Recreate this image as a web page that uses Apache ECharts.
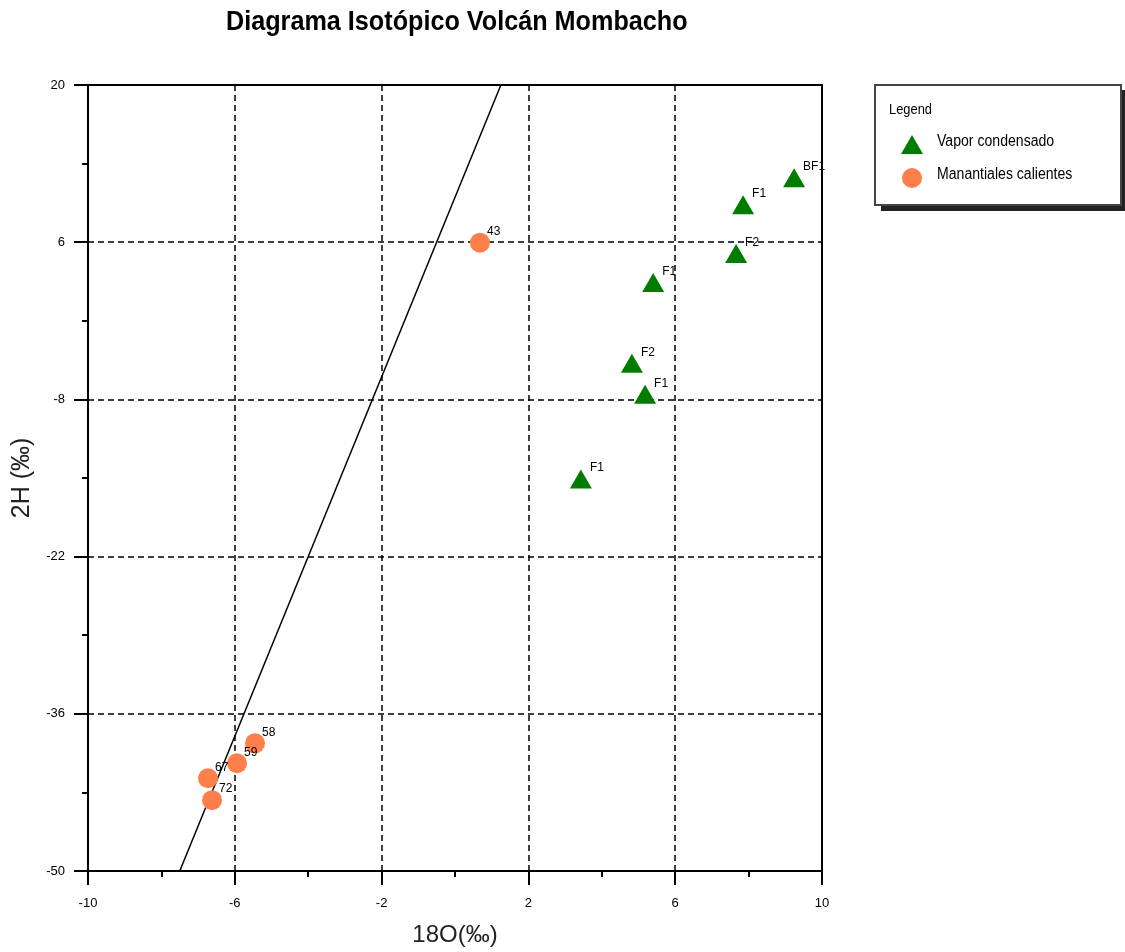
<!DOCTYPE html>
<html>
<head>
<meta charset="utf-8">
<script src="https://cdn.jsdelivr.net/npm/echarts@6/dist/echarts.min.js"></script>
<style>
  html, body { margin: 0; padding: 0; background: #fff; }
  #chart { width: 1125px; height: 952px; }
</style>
</head>
<body>
<div id="chart"></div>
<script>
// datos
var vaporX = [9.24, 7.85, 7.66, 5.40, 4.82, 5.18, 3.43];
var vaporY = [11.74, 9.34, 4.99, 2.41, -4.78, -7.54, -15.09];
var vaporLabels = ['BF1', 'F1', 'F2', 'F1', 'F2', 'F1', 'F1'];

var manantialX = [0.68, -5.45, -5.94, -6.73, -6.62];
var manantialY = [5.96, -38.63, -40.40, -41.74, -43.69];
var manantialLabels = ['43', '58', '59', '67', '72'];

// linea meteorica (extremos)
var lineaX = [-7.5, 1.25];
var lineaY = [-50, 20];

var xTicks = { min: -10, max: 10, interval: 4 };
var yTicks = { min: -50, max: 20, interval: 14 };

var colorVapor = '#007d00';
var colorManantial = '#ff7f4a';
var font = 'Liberation Sans, Arial, sans-serif';

function toPoints(xs, ys, names) {
  return xs.map(function (x, i) {
    return { value: [x, ys[i]], name: names ? names[i] : '' };
  });
}

var chart = echarts.init(document.getElementById('chart'));

var axisCommon = {
  type: 'value',
  axisLine: { show: true, onZero: false, lineStyle: { color: '#000', width: 2 } },
  axisTick: { show: true, length: 14, lineStyle: { color: '#000', width: 2 } },
  minorTick: { show: true, splitNumber: 2, length: 6, lineStyle: { color: '#000', width: 2 } },
  splitLine: { show: true, lineStyle: { color: '#000', width: 1.5, type: [6, 4] } },
  axisLabel: { color: '#000', fontSize: 13, fontFamily: font },
  nameLocation: 'middle'
};

// leyenda dibujada a mano (texto algo comprimido como en el original)
var legendGraphic = [
  { type: 'rect', x: 881, y: 90, z: 1, shape: { width: 246, height: 121 }, style: { fill: '#222' } },
  { type: 'rect', x: 875, y: 85, z: 2, shape: { width: 246, height: 120 }, style: { fill: '#fff', stroke: '#444', lineWidth: 2 } },
  { type: 'text', x: 889, y: 110, z: 3, scaleX: 0.92,
    style: { text: 'Legend', fontSize: 14, fill: '#000', fontFamily: font, verticalAlign: 'middle' } },
  { type: 'polygon', z: 3, shape: { points: [[912, 135], [923, 154], [901, 154]] }, style: { fill: colorVapor } },
  { type: 'text', x: 937, y: 142, z: 3, scaleX: 0.88,
    style: { text: 'Vapor condensado', fontSize: 16, fill: '#000', fontFamily: font, verticalAlign: 'middle' } },
  { type: 'circle', z: 3, shape: { cx: 912, cy: 178, r: 10 }, style: { fill: colorManantial } },
  { type: 'text', x: 937, y: 175, z: 3, scaleX: 0.88,
    style: { text: 'Manantiales calientes', fontSize: 16, fill: '#000', fontFamily: font, verticalAlign: 'middle' } }
];

var option = {
  animation: false,
  backgroundColor: '#fff',
  grid: {
    left: 88, right: 303, top: 85, bottom: 79,
    show: true, borderColor: '#000', borderWidth: 2, backgroundColor: '#fff'
  },
  xAxis: Object.assign({}, axisCommon, {
    min: xTicks.min, max: xTicks.max, interval: xTicks.interval,
    name: '18O(‰)', nameGap: 52,
    nameTextStyle: { color: '#222', fontSize: 24, fontFamily: font },
    axisLabel: Object.assign({}, axisCommon.axisLabel, { margin: 26 })
  }),
  yAxis: Object.assign({}, axisCommon, {
    min: yTicks.min, max: yTicks.max, interval: yTicks.interval,
    name: '2H (‰)', nameGap: 53, nameRotate: 90,
    nameTextStyle: { color: '#222', fontSize: 25, fontFamily: font },
    axisLabel: Object.assign({}, axisCommon.axisLabel, { margin: 23 })
  }),
  graphic: [
    { type: 'text', x: 226, y: 22, z: 5, scaleX: 0.9,
      style: { text: 'Diagrama Isotópico Volcán Mombacho', fontSize: 28, fontWeight: 'bold',
               fill: '#000', fontFamily: font, verticalAlign: 'middle' } }
  ].concat(legendGraphic),
  series: [
    {
      name: 'LMM',
      type: 'line',
      data: lineaX.map(function (x, i) { return [x, lineaY[i]]; }),
      symbol: 'none',
      clip: true,
      lineStyle: { color: '#000', width: 1.5 },
      z: 2
    },
    {
      name: 'Vapor condensado',
      type: 'scatter',
      data: toPoints(vaporX, vaporY, vaporLabels),
      symbol: 'triangle',
      symbolSize: [22, 19],
      itemStyle: { color: colorVapor, opacity: 1 },
      label: {
        show: true, position: 'right', distance: 0, offset: [-2, -11],
        formatter: '{b}', fontSize: 12, color: '#000', fontFamily: font
      },
      z: 3
    },
    {
      name: 'Manantiales calientes',
      type: 'scatter',
      data: toPoints(manantialX, manantialY, manantialLabels),
      symbol: 'circle',
      symbolSize: 20,
      itemStyle: { color: colorManantial, opacity: 1 },
      label: {
        show: true, position: 'right', distance: 0, offset: [-3, -11],
        formatter: '{b}', fontSize: 12, color: '#000', fontFamily: font
      },
      z: 3
    }
  ]
};

chart.setOption(option);
</script>
</body>
</html>
